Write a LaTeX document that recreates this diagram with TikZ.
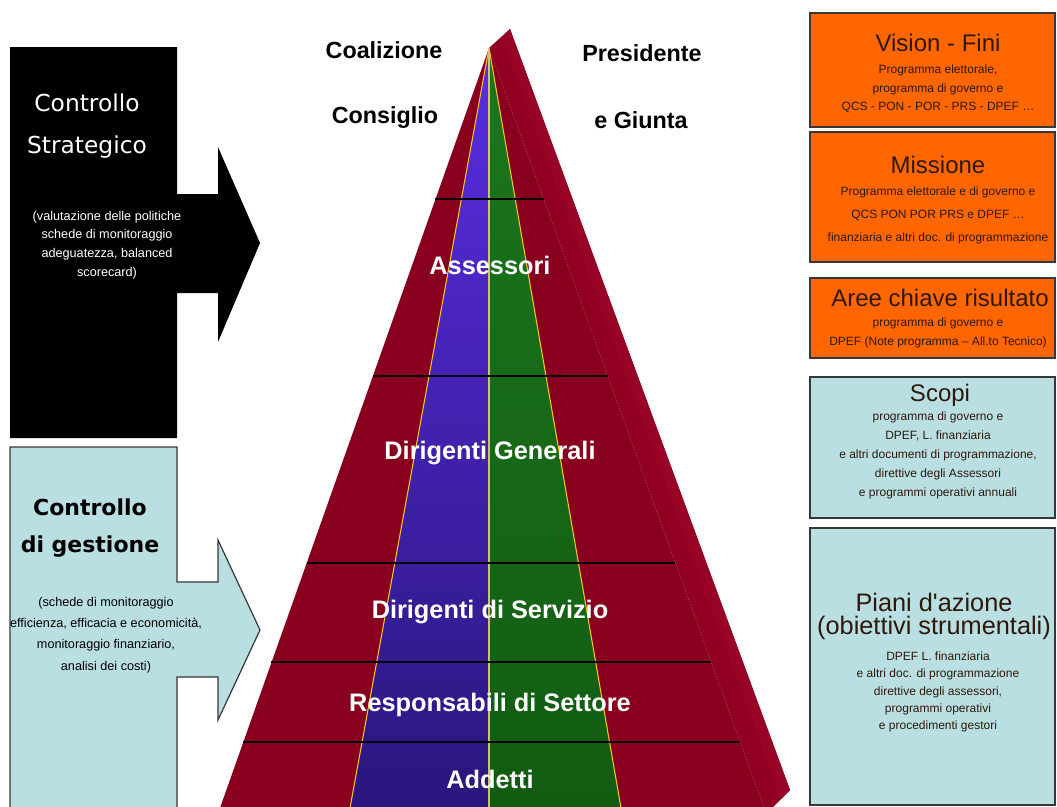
\documentclass[tikz,border=0pt]{standalone}
\usepackage{fontspec}
\setmainfont{Liberation Sans}
\newfontfamily\dejavu{DejaVu Sans}
\definecolor{pyrred}{RGB}{136,0,30}
\definecolor{sidered}{RGB}{146,0,33}
\definecolor{sidelight}{RGB}{152,2,36}
\definecolor{orng}{RGB}{255,102,0}
\definecolor{lblue}{RGB}{186,223,227}
\definecolor{bordergray}{RGB}{55,55,55}
\definecolor{stripyellow}{RGB}{245,195,40}
\definecolor{centerline}{RGB}{215,190,120}
\definecolor{bluetop}{RGB}{90,45,225}
\definecolor{bluemid}{RGB}{75,30,210}
\definecolor{bluebot}{RGB}{42,22,125}
\definecolor{greentop}{RGB}{28,118,28}
\definecolor{greenbot}{RGB}{18,92,18}
\definecolor{rtext}{RGB}{45,25,10}
\tikzset{
  lvl/.style={text=white, font=\fontsize{19}{22}\selectfont\bfseries, inner sep=0pt},
  toplbl/.style={text=black, font=\fontsize{17.5}{20}\selectfont\bfseries, inner sep=0pt},
  ltitle/.style={font=\dejavu\fontsize{17.5}{31.5}\selectfont, align=center, inner sep=0pt},
  lbody/.style={font=\fontsize{9.5}{14}\selectfont, align=center, inner sep=0pt},
  rbox/.style={draw=bordergray, line width=0.9pt},
  rtitle/.style={font=\fontsize{18}{20}\selectfont, text=rtext, inner sep=0pt, align=center},
  rbody/.style={font=\fontsize{9}{14}\selectfont, text=rtext, inner sep=0pt, align=center},
  levelline/.style={black, line width=0.8pt},
  yline/.style={stripyellow, line width=0.8pt}
}
\begin{document}
\begin{tikzpicture}[x=0.75pt,y=-0.75pt]
\useasboundingbox (0,0) rectangle (1057,807);
\fill[white] (0,0) rectangle (1057,807);

% ---------- left: Controllo Strategico (black arrow)
\fill[black] (10,47) -- (177,47) -- (177,194) -- (218,194) -- (218,147) -- (260,243)
  -- (218,342) -- (218,293) -- (177,293) -- (177,438) -- (10,438) -- cycle;
\node[ltitle, text=white] (cstitle) at (87,126) {Controllo\\Strategico};
\node[lbody, text=white] (csbody) at (107,245) {(valutazione delle politiche\\schede di monitoraggio\\adeguatezza, balanced\\scorecard)};

% ---------- left: Controllo di gestione (light blue arrow)
\filldraw[fill=lblue, draw=bordergray, line width=0.9pt] (10,809) -- (10,447) -- (177,447) -- (177,582)
  -- (218,582) -- (218,540) -- (260,630) -- (218,720) -- (218,677) -- (177,677) -- (177,809);
\node[ltitle, text=black, font=\dejavu\bfseries\fontsize{16.5}{28}\selectfont] (cgtitle) at (90,528) {Controllo\\di gestione};
\node[lbody, text=black, font=\fontsize{9.5}{16}\selectfont] (cgbody) at (106,635) {(schede di monitoraggio\\efficienza, efficacia e economicità,\\monitoraggio finanziario,\\analisi dei costi)};

% ---------- pyramid
\fill[sidered] (489,48) -- (510,29) -- (790,790) -- (772,808) -- (764,808) -- cycle;
\fill[sidelight] (502,38) -- (510,29) -- (790,790) -- (781,799) -- cycle;
\fill[pyrred] (489,48) -- (220,808) -- (764,808) -- cycle;
\shade[top color=bluetop, middle color=bluemid, bottom color=bluebot] (489,48) -- (350,808) -- (489,808) -- cycle;
\shade[top color=greentop, bottom color=greenbot] (489,48) -- (489,808) -- (621,808) -- cycle;
\draw[yline] (489,48) -- (350,808);
\draw[yline] (489,48) -- (621,808);
\draw[centerline, line width=0.8pt] (489,48) -- (489,808);

\draw[levelline] (435,199) -- (544,199);
\draw[levelline] (373,376) -- (608,376);
\draw[levelline] (307,563) -- (675,563);
\draw[levelline] (271,662) -- (711,662);
\draw[levelline] (243,742) -- (740,742);

\node[lvl] (assessori) at (490,265) {Assessori};
\node[lvl] (dirgen) at (490,453) {Dirigenti Generali};
\node[lvl] (dirserv) at (490,612) {Dirigenti di Servizio};
\node[lvl] (resp) at (490,705) {Responsabili di Settore};
\node[lvl] (addetti) at (490,779) {Addetti};

\node[toplbl] (coalizione) at (384,50) {Coalizione};
\node[toplbl] (consiglio) at (385,118) {Consiglio};
\node[toplbl] (presidente) at (642,53) {Presidente};
\node[toplbl] (giunta) at (641,120) {e Giunta};

% ---------- right boxes
\filldraw[rbox, fill=orng] (810,13) rectangle (1055,127);
\node[rtitle] (vision) at (938,43) {Vision - Fini};
\node[rbody, font=\fontsize{9}{13.9}\selectfont] (visionbody) at (938,89) {Programma elettorale,\\programma di governo e\\QCS - PON - POR - PRS - DPEF \ldots};

\filldraw[rbox, fill=orng] (810,132) rectangle (1055,262);
\node[rtitle] (missione) at (938,165) {Missione};
\node[rbody, font=\fontsize{9}{17.25}\selectfont] (missionebody) at (938,215) {Programma elettorale e di governo e\\QCS PON POR PRS e DPEF \ldots\\finanziaria e altri doc. di programmazione};

\filldraw[rbox, fill=orng] (810,278) rectangle (1055,358);
\node[rtitle] (aree) at (940,298) {Aree chiave risultato};
\node[rbody, font=\fontsize{9}{14.25}\selectfont] (areebody) at (938,333) {programma di governo e\\DPEF (Note programma -- All.to Tecnico)};

\filldraw[rbox, fill=lblue] (810,377) rectangle (1055,518);
\node[rtitle] (scopi) at (940,395) {Scopi};
\node[rbody, font=\fontsize{9}{14.25}\selectfont] (scopibody) at (938,455) {programma di governo e\\DPEF, L. finanziaria\\e altri documenti di programmazione,\\direttive degli Assessori\\e programmi operativi annuali};

\filldraw[rbox, fill=lblue] (810,528) rectangle (1055,805);
\node[rtitle, font=\fontsize{19}{17.25}\selectfont] (piani) at (934,616) {Piani d\textquotesingle azione\\(obiettivi strumentali)};
\node[rbody, font=\fontsize{9}{13}\selectfont] (pianibody) at (938,692) {DPEF L. finanziaria\\e altri doc. di programmazione\\direttive degli assessori,\\programmi operativi\\e procedimenti gestori};
\end{tikzpicture}
\end{document}
